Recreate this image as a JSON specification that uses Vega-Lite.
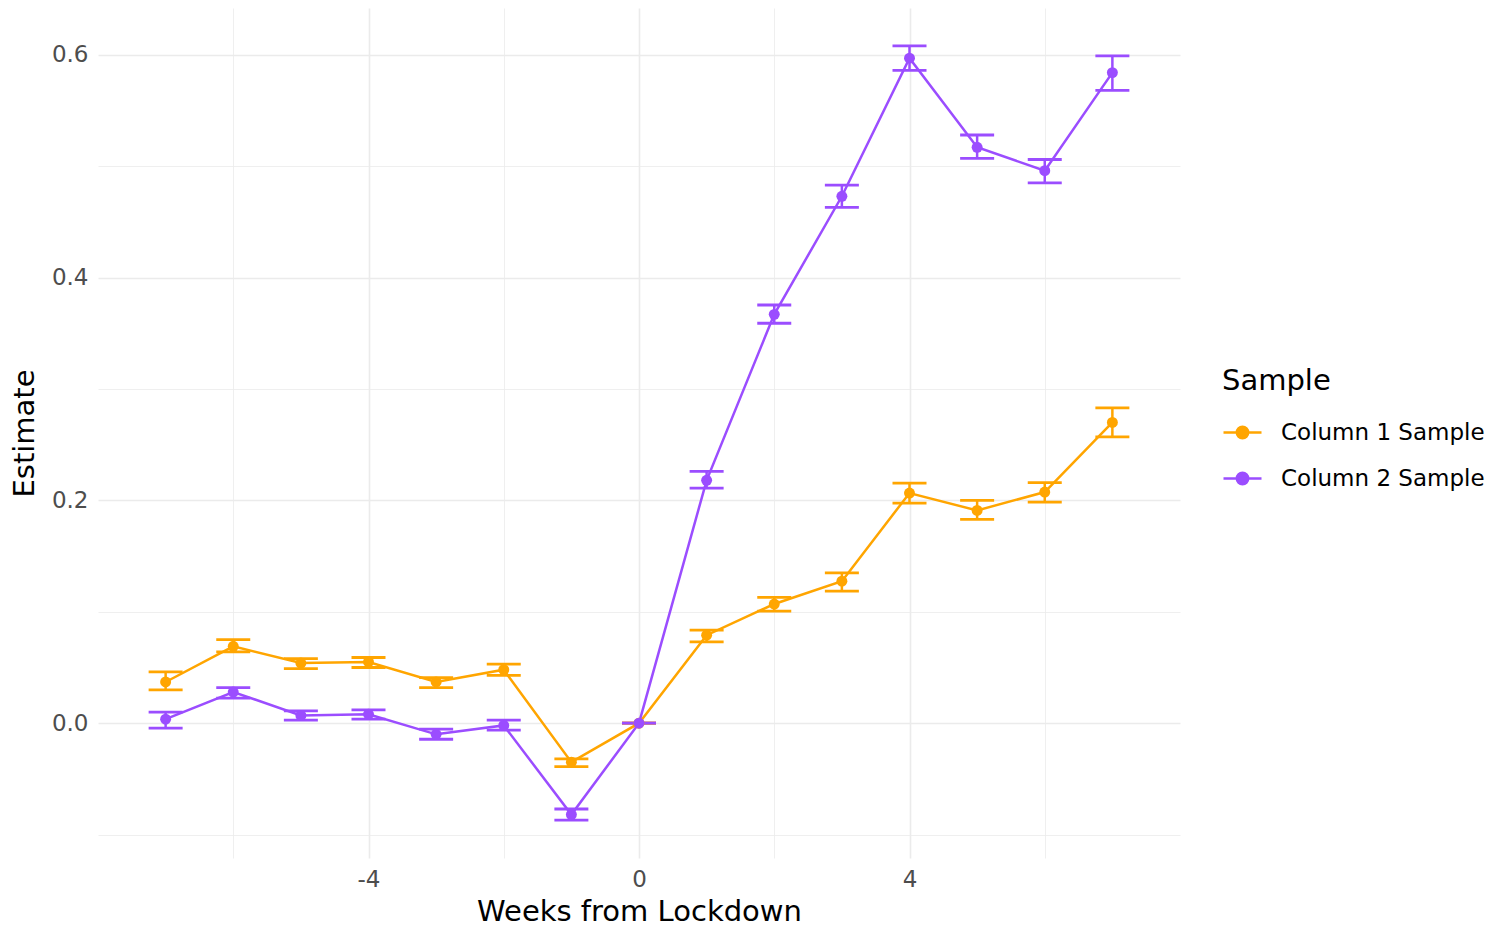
{
  "$schema": "https://vega.github.io/schema/vega-lite/v6.json",
  "autosize": {"type": "none"},
  "width": 1082,
  "height": 850,
  "padding": {"left": 98, "top": 8, "right": 319, "bottom": 70},
  "background": "white",
  "config": {
    "font": "DejaVu Sans",
    "view": {"stroke": null},
    "axis": {"domain": false, "ticks": false, "gridColor": "#EBEBEB", "labelColor": "#4D4D4D", "labelFontSize": 23, "titleFontSize": 29, "titleFontWeight": "normal", "titleColor": "#000000"}
  },
  "data": {"values": [
    {"week": -7, "sample": "Column 1 Sample", "est": 0.037, "lo": 0.030, "hi": 0.046},
    {"week": -6, "sample": "Column 1 Sample", "est": 0.069, "lo": 0.064, "hi": 0.075},
    {"week": -5, "sample": "Column 1 Sample", "est": 0.054, "lo": 0.049, "hi": 0.058},
    {"week": -4, "sample": "Column 1 Sample", "est": 0.055, "lo": 0.050, "hi": 0.059},
    {"week": -3, "sample": "Column 1 Sample", "est": 0.037, "lo": 0.032, "hi": 0.041},
    {"week": -2, "sample": "Column 1 Sample", "est": 0.048, "lo": 0.043, "hi": 0.053},
    {"week": -1, "sample": "Column 1 Sample", "est": -0.035, "lo": -0.039, "hi": -0.032},
    {"week": 0, "sample": "Column 1 Sample", "est": 0.0, "lo": 0.0, "hi": 0.0},
    {"week": 1, "sample": "Column 1 Sample", "est": 0.079, "lo": 0.073, "hi": 0.0835},
    {"week": 2, "sample": "Column 1 Sample", "est": 0.107, "lo": 0.1006, "hi": 0.113},
    {"week": 3, "sample": "Column 1 Sample", "est": 0.1275, "lo": 0.1185, "hi": 0.135},
    {"week": 4, "sample": "Column 1 Sample", "est": 0.2066, "lo": 0.1976, "hi": 0.2155},
    {"week": 5, "sample": "Column 1 Sample", "est": 0.191, "lo": 0.183, "hi": 0.200},
    {"week": 6, "sample": "Column 1 Sample", "est": 0.2075, "lo": 0.1985, "hi": 0.216},
    {"week": 7, "sample": "Column 1 Sample", "est": 0.270, "lo": 0.257, "hi": 0.283},
    {"week": -7, "sample": "Column 2 Sample", "est": 0.0036, "lo": -0.0045, "hi": 0.0099},
    {"week": -6, "sample": "Column 2 Sample", "est": 0.028, "lo": 0.0225, "hi": 0.032},
    {"week": -5, "sample": "Column 2 Sample", "est": 0.007, "lo": 0.0027, "hi": 0.011},
    {"week": -4, "sample": "Column 2 Sample", "est": 0.008, "lo": 0.0036, "hi": 0.012},
    {"week": -3, "sample": "Column 2 Sample", "est": -0.010, "lo": -0.0144, "hi": -0.0054},
    {"week": -2, "sample": "Column 2 Sample", "est": -0.002, "lo": -0.0063, "hi": 0.0027},
    {"week": -1, "sample": "Column 2 Sample", "est": -0.082, "lo": -0.087, "hi": -0.077},
    {"week": 0, "sample": "Column 2 Sample", "est": 0.0, "lo": 0.0, "hi": 0.0},
    {"week": 1, "sample": "Column 2 Sample", "est": 0.218, "lo": 0.211, "hi": 0.226},
    {"week": 2, "sample": "Column 2 Sample", "est": 0.367, "lo": 0.359, "hi": 0.3754},
    {"week": 3, "sample": "Column 2 Sample", "est": 0.473, "lo": 0.463, "hi": 0.483},
    {"week": 4, "sample": "Column 2 Sample", "est": 0.597, "lo": 0.586, "hi": 0.608},
    {"week": 5, "sample": "Column 2 Sample", "est": 0.517, "lo": 0.507, "hi": 0.528},
    {"week": 6, "sample": "Column 2 Sample", "est": 0.496, "lo": 0.485, "hi": 0.506},
    {"week": 7, "sample": "Column 2 Sample", "est": 0.584, "lo": 0.568, "hi": 0.599}
  ]},
  "encoding": {
    "x": {"field": "week", "type": "quantitative", "scale": {"domain": [-8, 8], "nice": false, "zero": false},
      "axis": {"title": "Weeks from Lockdown", "values": [-6, -4, -2, 0, 2, 4, 6], "labelExpr": "datum.value % 4 === 0 ? ('' + datum.value) : ''",
        "gridWidth": {"condition": {"test": "datum.value % 4 === 0", "value": 1.6}, "value": 0.8},
        "labelPadding": 10, "titlePadding": 6}},
    "color": {"field": "sample", "type": "nominal", "scale": {"domain": ["Column 1 Sample", "Column 2 Sample"], "range": ["#FFA500", "#9B4DFF"]},
      "legend": {"title": "Sample", "orient": "none", "legendX": 1124, "legendY": 359, "titleFontSize": 29, "titleFontWeight": "normal", "titleColor": "#000000", "titlePadding": 16,
        "labelFontSize": 23, "labelColor": "#000000", "labelOffset": 18, "labelLimit": 400, "rowPadding": 13,
        "symbolType": "M-1,0L1,0M0.3,0A0.3,0.3,0,1,1,-0.3,0A0.3,0.3,0,1,1,0.3,0Z", "symbolSize": 1444, "symbolStrokeWidth": 2.5, "symbolOpacity": 1}}
  },
  "layer": [
    {"mark": {"type": "line", "strokeWidth": 2.5},
     "encoding": {"y": {"field": "est", "type": "quantitative", "scale": {"domain": [-0.121, 0.642], "nice": false, "zero": false},
       "axis": {"title": "Estimate", "values": [-0.1, 0.0, 0.1, 0.2, 0.3, 0.4, 0.5, 0.6], "format": ".1f",
         "labelExpr": "abs(round(datum.value*10)) % 2 === 0 ? datum.label : ''",
         "gridWidth": {"condition": {"test": "abs(round(datum.value*10)) % 2 === 0", "value": 1.6}, "value": 0.8},
         "labelPadding": 10, "titlePadding": 12}}}},
    {"mark": {"type": "rule", "strokeWidth": 2.5},
     "encoding": {"y": {"field": "lo", "type": "quantitative"}, "y2": {"field": "hi"}}},
    {"mark": {"type": "tick", "orient": "horizontal", "size": 34, "thickness": 2.8, "opacity": 1},
     "encoding": {"y": {"field": "lo", "type": "quantitative"}}},
    {"mark": {"type": "tick", "orient": "horizontal", "size": 34, "thickness": 2.8, "opacity": 1},
     "encoding": {"y": {"field": "hi", "type": "quantitative"}}},
    {"mark": {"type": "point", "filled": true, "opacity": 1, "size": 120},
     "encoding": {"y": {"field": "est", "type": "quantitative"}}}
  ]
}
